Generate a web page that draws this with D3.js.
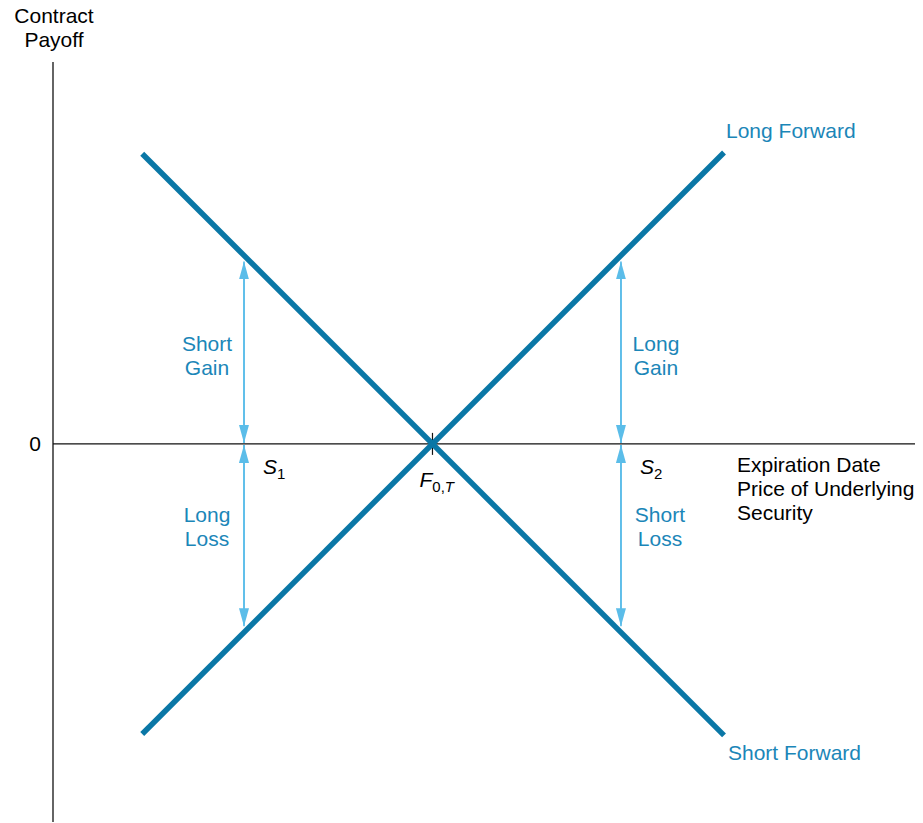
<!DOCTYPE html>
<html>
<head>
<meta charset="utf-8">
<script src="https://d3js.org/d3.v7.min.js"></script>
<style>
  body { margin: 0; background: #fff; }
  text { font-family: "Liberation Sans", Arial, Helvetica, sans-serif; }
</style>
</head>
<body>
<svg id="drawing_region"></svg>
<script>
// prices at expiration (forward price F = 50)
const forwardPrice = 50;
const priceRange = [26.9, 73.2];   // ends of the payoff lines
const spotPrices = [35, 65];       // S1, S2
const spotNames = ["1", "2"];
const gainLabels = [["Short", "Gain"], ["Long", "Gain"]];
const lossLabels = [["Long", "Loss"], ["Short", "Loss"]];
const lineNames = ["Long Forward", "Short Forward"];

const config = {
    width: 923,
    height: 823,
    x0: 53, x1: 915,
    y0: 822, y1: 62
};

const lineColor = "#0a77a6";
const arrowColor = "#5bbde9";
const labelColor = "#1b86b8";
const fs = '21px';

const svg = d3.select('#drawing_region')
    .attr('width', config.width)
    .attr('height', config.height);

const xscale = d3.scaleLinear()
    .domain([19.8, 88.4])
    .range([config.x0, config.x1]);

const yscale = d3.scaleLinear()
    .domain([-30.1, 30.4])
    .range([config.y0, config.y1]);

const longPayoff = p => p - forwardPrice;
const shortPayoff = p => forwardPrice - p;

// axes
svg.append('line')
    .attr('x1', config.x0).attr('x2', config.x0)
    .attr('y1', config.y1).attr('y2', config.y0)
    .attr('stroke', '#111').attr('stroke-width', 1.3);

svg.append('line')
    .attr('x1', config.x0).attr('x2', config.x1)
    .attr('y1', yscale(0)).attr('y2', yscale(0))
    .attr('stroke', '#111').attr('stroke-width', 1.3);

// tick at forward price
svg.append('line')
    .attr('x1', xscale(forwardPrice)).attr('x2', xscale(forwardPrice))
    .attr('y1', yscale(0) - 11).attr('y2', yscale(0) + 11)
    .attr('stroke', '#111').attr('stroke-width', 1.2);

svg.append('text')
    .attr('x', 35).attr('y', yscale(0))
    .attr('dy', '0.35em')
    .attr('text-anchor', 'middle')
    .attr('font-size', fs)
    .text('0');

const titleText = svg.append('text')
    .attr('x', 54).attr('y', 23)
    .attr('text-anchor', 'middle')
    .attr('font-size', fs);
titleText.append('tspan').attr('x', 54).text('Contract');
titleText.append('tspan').attr('x', 54).attr('dy', 24).text('Payoff');

const axisLabel = svg.append('text')
    .attr('x', 737).attr('y', 472)
    .attr('font-size', fs);
["Expiration Date", "Price of Underlying", "Security"].forEach((t, i) => {
    axisLabel.append('tspan').attr('x', 737).attr('dy', i == 0 ? 0 : 24).text(t);
});

// arrows
const defs = svg.append('defs');
defs.append('marker')
    .attr('id', 'head')
    .attr('viewBox', '0 0 18 10')
    .attr('refX', 18).attr('refY', 5)
    .attr('markerWidth', 18).attr('markerHeight', 10)
    .attr('markerUnits', 'userSpaceOnUse')
    .attr('orient', 'auto')
    .append('path')
    .attr('d', 'M0,0 L18,5 L0,10 Z')
    .attr('fill', arrowColor);

const gap = 6;
spotPrices.forEach((p, i) => {
    const top = i == 0 ? shortPayoff(p) : longPayoff(p);
    const bottom = i == 0 ? longPayoff(p) : shortPayoff(p);
    // up arrow
    svg.append('line')
        .attr('x1', xscale(p)).attr('x2', xscale(p))
        .attr('y1', yscale(0) - 1).attr('y2', yscale(top) + gap)
        .attr('stroke', arrowColor).attr('stroke-width', 1.6)
        .attr('marker-end', 'url(#head)');
    svg.append('line')
        .attr('x1', xscale(p)).attr('x2', xscale(p))
        .attr('y1', yscale(top) + gap + 2).attr('y2', yscale(0) - 1)
        .attr('stroke', arrowColor).attr('stroke-width', 1.6)
        .attr('marker-end', 'url(#head)');
    // down arrow
    svg.append('line')
        .attr('x1', xscale(p)).attr('x2', xscale(p))
        .attr('y1', yscale(0) + 1).attr('y2', yscale(bottom) - gap)
        .attr('stroke', arrowColor).attr('stroke-width', 1.6)
        .attr('marker-end', 'url(#head)');
    svg.append('line')
        .attr('x1', xscale(p)).attr('x2', xscale(p))
        .attr('y1', yscale(bottom) - gap - 2).attr('y2', yscale(0) + 1)
        .attr('stroke', arrowColor).attr('stroke-width', 1.6)
        .attr('marker-end', 'url(#head)');

    // S labels
    const s = svg.append('text')
        .attr('x', xscale(p) + 19).attr('y', yscale(0) + 30)
        .attr('font-size', fs);
    s.append('tspan').attr('font-style', 'italic').text('S');
    s.append('tspan').attr('font-size', '15px').attr('dy', 5).text(spotNames[i]);

    // gain / loss labels
    const cx = i == 0 ? xscale(p) - 37 : xscale(p) + 35;
    const g = svg.append('text')
        .attr('x', cx).attr('y', yscale(7.4))
        .attr('text-anchor', 'middle')
        .attr('fill', labelColor)
        .attr('font-size', fs);
    gainLabels[i].forEach((t, j) => g.append('tspan').attr('x', cx).attr('dy', j == 0 ? 0 : 24).text(t));
    const cx2 = i == 0 ? xscale(p) - 37 : xscale(p) + 39;
    const l = svg.append('text')
        .attr('x', cx2).attr('y', yscale(-6.2))
        .attr('text-anchor', 'middle')
        .attr('fill', labelColor)
        .attr('font-size', fs);
    lossLabels[i].forEach((t, j) => l.append('tspan').attr('x', cx2).attr('dy', j == 0 ? 0 : 24).text(t));
});

// payoff lines
const line = f => d3.line()
    .x(d => xscale(d))
    .y(d => yscale(f(d)));

svg.append('path')
    .datum(priceRange)
    .attr('d', line(longPayoff))
    .attr('fill', 'none')
    .attr('stroke', lineColor)
    .attr('stroke-width', 5.5);

svg.append('path')
    .datum(priceRange)
    .attr('d', line(shortPayoff))
    .attr('fill', 'none')
    .attr('stroke', lineColor)
    .attr('stroke-width', 5.5);

// F0,T label
const fl = svg.append('text')
    .attr('x', xscale(forwardPrice) - 13).attr('y', yscale(0) + 43)
    .attr('font-size', fs);
fl.append('tspan').attr('font-style', 'italic').text('F');
fl.append('tspan').attr('font-size', '15px').attr('dy', 5).text('0,');
fl.append('tspan').attr('font-size', '15px').attr('font-style', 'italic').text('T');

// line names
svg.append('text')
    .attr('x', 726).attr('y', 131)
    .attr('dy', '0.35em')
    .attr('fill', labelColor)
    .attr('font-size', fs)
    .text(lineNames[0]);

svg.append('text')
    .attr('x', 728).attr('y', 753)
    .attr('dy', '0.35em')
    .attr('fill', labelColor)
    .attr('font-size', fs)
    .text(lineNames[1]);
</script>
</body>
</html>
